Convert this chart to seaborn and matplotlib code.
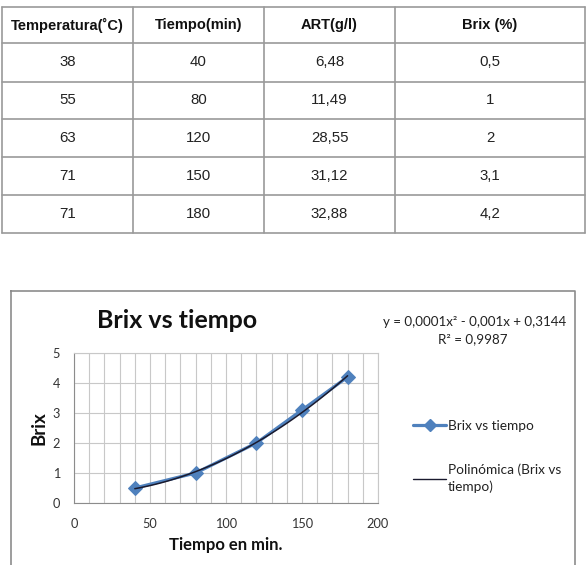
import numpy as np
import pandas as pd
import seaborn as sns
import matplotlib.pyplot as plt
from matplotlib.lines import Line2D

# data from the table
temperatura = [38, 55, 63, 71, 71]
tiempo = [40, 80, 120, 150, 180]
art = ['6,48', '11,49', '28,55', '31,12', '32,88']
brix = [0.5, 1, 2, 3.1, 4.2]
headers = ['Temperatura(˚C)', 'Tiempo(min)', 'ART(g/l)', 'Brix (%)']

W, H = 587, 565
sns.set_theme(style='white')
plt.rcParams['font.family'] = ['Liberation Sans', 'DejaVu Sans']

fig = plt.figure(figsize=(W / 100, H / 100), dpi=100)
bg = fig.add_axes([0, 0, 1, 1])
bg.set_xlim(0, W)
bg.set_ylim(H, 0)
bg.axis('off')

# ---- table ----
col_x = [2, 133, 264, 395, 585]
row_y = [7, 43, 82, 119, 157, 195, 233]
for x in col_x:
    bg.plot([x, x], [row_y[0], row_y[-1]], color='#9a9a9a', lw=1.2)
for y in row_y:
    bg.plot([col_x[0], col_x[-1]], [y, y], color='#9a9a9a', lw=1.2)

rows = [[str(t), str(m), a, str(b).replace('.', ',')]
        for t, m, a, b in zip(temperatura, tiempo, art, brix)]
for j, h in enumerate(headers):
    cx = (col_x[j] + col_x[j + 1]) / 2
    bg.text(cx, (row_y[0] + row_y[1]) / 2, h, ha='center', va='center',
            fontsize=10.5, fontweight='bold', color='#111111')
for i, r in enumerate(rows):
    for j, v in enumerate(r):
        cx = (col_x[j] + col_x[j + 1]) / 2
        bg.text(cx, (row_y[i + 1] + row_y[i + 2]) / 2, v, ha='center', va='center',
                fontsize=10.8, color='#222222')

# ---- chart frame ----
bg.plot([11, 575, 575, 11, 11], [291, 291, 570, 570, 291], color='#8c8c8c', lw=1.2)

cfont = ['Lato', 'DejaVu Sans']
bg.text(177, 320, 'Brix vs tiempo', ha='center', va='center', fontsize=18,
        fontweight='bold', family=cfont, color='#111111')
bg.text(475, 322, 'y = 0,0001x² - 0,001x + 0,3144', ha='center', va='center',
        fontsize=9.6, family=cfont, color='#222222')
bg.text(473, 339, 'R² = 0,9987', ha='center', va='center',
        fontsize=9.6, family=cfont, color='#222222')

ax = fig.add_axes([74 / W, 1 - 503 / H, 304 / W, 150 / H])
df = pd.DataFrame({'tiempo': tiempo, 'brix': brix})
sns.lineplot(data=df, x='tiempo', y='brix', ax=ax, color='#4F81BD', lw=2.3,
             marker='D', markersize=7, markeredgecolor='#4F81BD', legend=False)
sns.regplot(data=df, x='tiempo', y='brix', ax=ax, order=2, ci=None, scatter=False,
            line_kws=dict(color='#1a1a2e', lw=1.1))

ax.set_xlim(0, 200)
ax.set_ylim(0, 5)
ax.set_xticks(np.arange(0, 201, 50))
ax.set_xticks(np.arange(0, 201, 10), minor=True)
ax.set_yticks(np.arange(0, 6, 1))
ax.grid(True, which='both', color='#c8c8c8', lw=0.8)
ax.set_axisbelow(True)
for s in ax.spines.values():
    s.set_color('#c8c8c8')
    s.set_linewidth(0.8)
ax.spines['left'].set_color('#8c8c8c')
ax.spines['bottom'].set_color('#8c8c8c')
ax.tick_params(which='both', length=0, labelsize=9.2, colors='#333333')
ax.tick_params(axis='x', pad=11)
ax.tick_params(axis='y', pad=10)
for lab in ax.get_xticklabels() + ax.get_yticklabels():
    lab.set_family(cfont)
ax.set_xlabel('Tiempo en min.', fontsize=12, fontweight='bold', family=cfont,
              color='#111111', labelpad=5)
ax.set_ylabel('Brix', fontsize=13.5, fontweight='bold', family=cfont,
              color='#111111', labelpad=4)

handles = [Line2D([], [], color='#4F81BD', lw=2.3, marker='D', markersize=6),
           Line2D([], [], color='#1a1a2e', lw=1)]
leg = fig.legend(handles, ['Brix vs tiempo', 'Polinómica (Brix vs\ntiempo)'],
                 loc='upper left', bbox_to_anchor=(401 / W, 1 - 408 / H),
                 frameon=False, handlelength=2.4, handletextpad=0.15,
                 labelspacing=2.3, prop=dict(family=cfont, size=9.8))
for t in leg.get_texts():
    t.set_color('#222222')
    t.set_linespacing(1.45)

fig.savefig('out.png', dpi=100)
